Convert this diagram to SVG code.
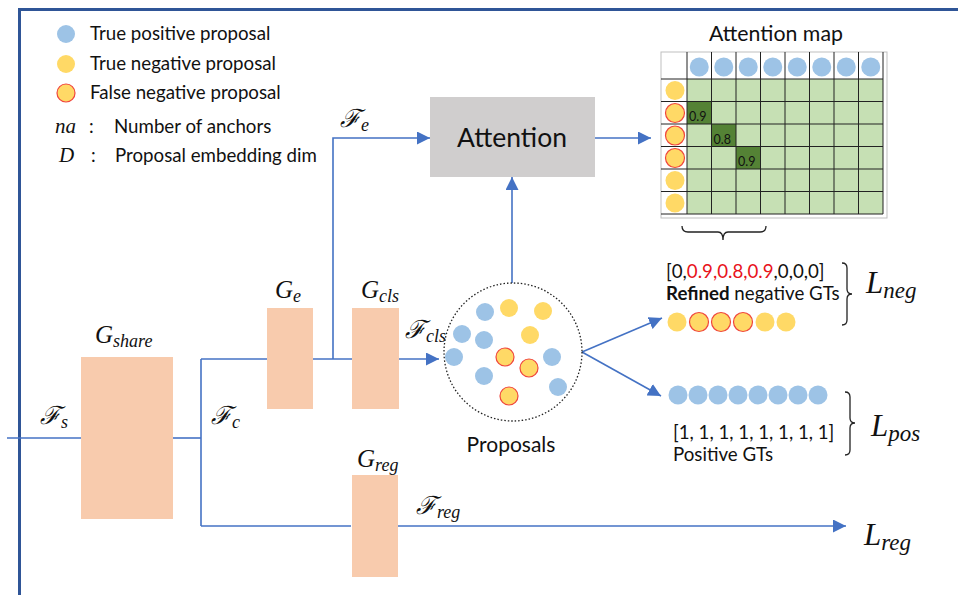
<svg xmlns="http://www.w3.org/2000/svg" width="958" height="595" viewBox="0 0 958 595">
<style>
.t{font-family:Lato,"Open Sans",sans-serif;font-size:18.7px;fill:#111}
.m{font-family:"Liberation Serif","DejaVu Serif",serif;font-style:italic;fill:#111}
.g{font-size:25px}
.sb{font-size:18px}
.ln{stroke:#4472C4;stroke-width:1.6;fill:none}
.bl{fill:#9DC3E6}
.ye{fill:#FFD966}
.fn{fill:#FFD966;stroke:#F0463C;stroke-width:1.2}
.blk{fill:#F8CBAD}
.grid{stroke:#222;stroke-width:1;fill:none}
.br{stroke:#222;stroke-width:1.3;fill:none}
</style>
<defs>
<marker id="ah" viewBox="0 0 12 12" refX="12" refY="6" markerWidth="13" markerHeight="13" orient="auto" markerUnits="userSpaceOnUse"><path d="M0,0 L12,6 L0,12 z" fill="#4472C4"/></marker>
</defs>
<rect width="958" height="595" fill="#fff"/>
<g id="frame"><path d="M19.5,595 V9.5 H958" stroke="#2F5597" stroke-width="3" fill="none"/></g>

<g id="legend">
<circle class="bl" cx="66" cy="34" r="9"/>
<circle class="ye" cx="66" cy="64" r="9"/>
<circle class="fn" cx="66" cy="93" r="9"/>
<text class="t" x="90" y="40">True positive proposal</text>
<text class="t" x="90" y="70">True negative proposal</text>
<text class="t" x="90" y="99">False negative proposal</text>
<text class="m" x="55" y="133" style="font-size:21px">na</text><text class="t" x="89" y="133">:</text>
<text class="t" x="114" y="133">Number of anchors</text>
<text class="m" x="59" y="162" style="font-size:21px">D</text><text class="t" x="91" y="162">:</text>
<text class="t" x="115" y="162">Proposal embedding dim</text>
</g>

<g id="connectors">
<path class="ln" d="M7,438 H81"/>
<path class="ln" d="M173,438 H201"/>
<path class="ln" d="M201,359 V526"/>
<path class="ln" d="M201,359 H267"/>
<path class="ln" d="M313,359 H352"/>
<path class="ln" d="M333,359 V138 H430" marker-end="url(#ah)"/>
<path class="ln" d="M399,359 H439" marker-end="url(#ah)"/>
<path class="ln" d="M512,283 V177" marker-end="url(#ah)"/>
<path class="ln" d="M595,138 H651" marker-end="url(#ah)"/>
<path class="ln" d="M582,352 L662,318" marker-end="url(#ah)"/>
<path class="ln" d="M582,352 L661,396" marker-end="url(#ah)"/>
<path class="ln" d="M201,526 H351"/>
<path class="ln" d="M392,526 H846" marker-end="url(#ah)"/>
</g>

<g id="gshare">
<rect class="blk" x="81" y="357" width="92" height="162"/>
<text class="m" x="95" y="343"><tspan class="g">G</tspan><tspan class="sb" dy="4">share</tspan></text>
</g>
<text class="m" x="40" y="424"><tspan class="g">ℱ</tspan><tspan class="sb" dy="4">s</tspan></text>
<text class="m" x="211" y="424"><tspan class="g">ℱ</tspan><tspan class="sb" dy="4">c</tspan></text>

<g id="ge">
<rect class="blk" x="267" y="308" width="46" height="101"/>
<text class="m" x="275" y="298"><tspan class="g">G</tspan><tspan class="sb" dy="4">e</tspan></text>
</g>
<text class="m" x="340" y="127"><tspan class="g">ℱ</tspan><tspan class="sb" dy="4">e</tspan></text>

<g id="gcls">
<rect class="blk" x="352" y="308" width="47" height="101"/>
<text class="m" x="361" y="298"><tspan class="g">G</tspan><tspan class="sb" dy="4">cls</tspan></text>
</g>
<text class="m" x="405" y="338"><tspan class="g">ℱ</tspan><tspan class="sb" dy="4">cls</tspan></text>

<g id="greg">
<rect class="blk" x="352" y="475" width="46" height="102"/>
<text class="m" x="357" y="467"><tspan class="g">G</tspan><tspan class="sb" dy="4">reg</tspan></text>
</g>
<text class="m" x="416" y="514"><tspan class="g">ℱ</tspan><tspan class="sb" dy="4">reg</tspan></text>

<g id="attention">
<rect x="430" y="97" width="165" height="80" fill="#D0CECE"/>
<text class="t" x="512" y="147" style="font-size:26.5px" text-anchor="middle">Attention</text>
</g>

<g id="proposals">
<circle cx="513" cy="352" r="69" fill="none" stroke="#222" stroke-width="1.3" stroke-dasharray="1.5,2"/>
<circle class="bl" cx="485" cy="312" r="9"/>
<circle class="bl" cx="462" cy="334" r="9"/>
<circle class="bl" cx="484" cy="340" r="9"/>
<circle class="bl" cx="454" cy="357" r="9"/>
<circle class="bl" cx="552" cy="357" r="9"/>
<circle class="bl" cx="484" cy="376" r="9"/>
<circle class="bl" cx="558" cy="387" r="9"/>
<circle class="ye" cx="509" cy="308" r="9"/>
<circle class="ye" cx="543" cy="311" r="9"/>
<circle class="ye" cx="530" cy="335" r="9"/>
<circle class="fn" cx="505" cy="357" r="9"/>
<circle class="fn" cx="529" cy="368" r="9"/>
<circle class="fn" cx="509" cy="396" r="9"/>
<text class="t" x="511" y="452" style="font-size:21px" text-anchor="middle">Proposals</text>
</g>

<g id="attention-map">
<text class="t" x="776" y="41" style="font-size:21.3px" text-anchor="middle">Attention map</text>
<rect x="661" y="52" width="226" height="166" fill="#fff" stroke="#BFBFBF" stroke-width="1"/>
<rect x="687" y="79" width="196" height="135" fill="#C6E0B4"/>
<rect x="687" y="101.5" width="24.5" height="22.5" fill="#548235"/>
<rect x="711.5" y="124" width="24.5" height="22.5" fill="#548235"/>
<rect x="736" y="146.5" width="24.5" height="22.5" fill="#548235"/>
<path class="grid" d="M687,52V214M711.5,52V214M736,52V214M760.5,52V214M785,52V214M809.5,52V214M834,52V214M858.5,52V214M883,52V214M661,79H883M661,101.5H883M661,124H883M661,146.5H883M661,169H883M661,191.5H883M661,214H883"/>
<g class="bl">
<circle cx="699.25" cy="67" r="9.5"/><circle cx="723.75" cy="67" r="9.5"/><circle cx="748.25" cy="67" r="9.5"/><circle cx="772.75" cy="67" r="9.5"/><circle cx="797.25" cy="67" r="9.5"/><circle cx="821.75" cy="67" r="9.5"/><circle cx="846.25" cy="67" r="9.5"/><circle cx="870.75" cy="67" r="9.5"/>
</g>
<circle class="ye" cx="675" cy="90.5" r="9.5"/>
<circle class="fn" cx="675" cy="113" r="9.5"/>
<circle class="fn" cx="675" cy="135.5" r="9.5"/>
<circle class="fn" cx="675" cy="158" r="9.5"/>
<circle class="ye" cx="675" cy="180.5" r="9.5"/>
<circle class="ye" cx="675" cy="203" r="9.5"/>
<text class="t" x="689" y="121" style="font-size:12.5px">0.9</text>
<text class="t" x="713.5" y="143.5" style="font-size:12.5px">0.8</text>
<text class="t" x="738" y="166" style="font-size:12.5px">0.9</text>
<path class="br" d="M682,226 Q682,232 688,232 L718,232 Q723,232 723,240 Q723,232 728,232 L760,232 Q766,232 766,226"/>
</g>

<g id="neg">
<text class="t" x="666" y="278">[0,<tspan fill="#E8131B">0.9,0.8,0.9</tspan>,0,0,0]</text>
<text class="t" x="666" y="300"><tspan font-weight="bold">Refined</tspan> negative GTs</text>
<circle class="ye" cx="677" cy="322" r="9.5"/>
<circle class="fn" cx="699" cy="322" r="9.5"/>
<circle class="fn" cx="721" cy="322" r="9.5"/>
<circle class="fn" cx="743" cy="322" r="9.5"/>
<circle class="ye" cx="765" cy="322" r="9.5"/>
<circle class="ye" cx="786" cy="322" r="9.5"/>
<path class="br" d="M842,263 Q847,263 847,268 L847,289 Q847,294 852,294 Q847,294 847,299 L847,320 Q847,325 842,325"/>
<text class="m" x="866" y="293"><tspan style="font-size:31px">L</tspan><tspan style="font-size:23px" dy="5">neg</tspan></text>
</g>

<g id="pos">
<circle class="bl" cx="678" cy="395" r="9.5"/>
<circle class="bl" cx="698" cy="395" r="9.5"/>
<circle class="bl" cx="718" cy="395" r="9.5"/>
<circle class="bl" cx="738" cy="395" r="9.5"/>
<circle class="bl" cx="758" cy="395" r="9.5"/>
<circle class="bl" cx="778" cy="395" r="9.5"/>
<circle class="bl" cx="798" cy="395" r="9.5"/>
<circle class="bl" cx="818" cy="395" r="9.5"/>
<text class="t" x="673" y="439">[1, 1, 1, 1, 1, 1, 1, 1]</text>
<text class="t" x="673" y="461">Positive GTs</text>
<path class="br" d="M845,392 Q850,392 850,397 L850,418 Q850,423 855,423 Q850,423 850,428 L850,450 Q850,455 845,455"/>
<text class="m" x="871" y="436"><tspan style="font-size:31px">L</tspan><tspan style="font-size:23px" dy="5">pos</tspan></text>
</g>

<g id="lreg">
<text class="m" x="864" y="545"><tspan style="font-size:31px">L</tspan><tspan style="font-size:23px" dy="5">reg</tspan></text>
</g>
</svg>
